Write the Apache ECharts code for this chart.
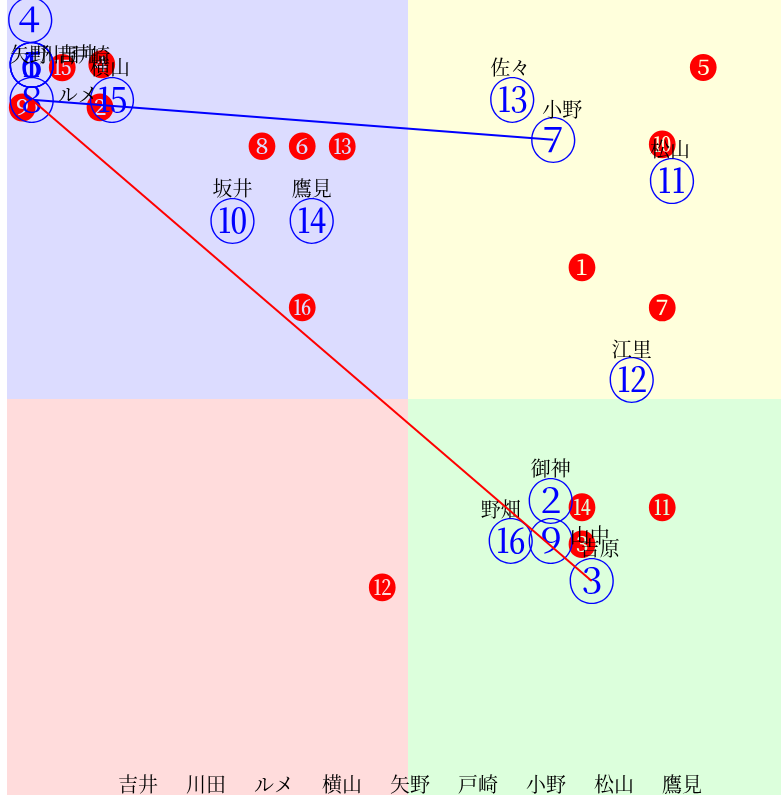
<!DOCTYPE html>
<html>
<head>
<meta charset="utf-8">
<script src="https://cdn.jsdelivr.net/npm/echarts@6/dist/echarts.min.js"></script>
<style>
  html, body { margin: 0; padding: 0; background: #fff; }
  #main { width: 781px; height: 795px; }
</style>
</head>
<body>
<div id="main"></div>
<script>
  // 青の丸数字（①〜⑯）と名前
  const blueGlyphs = ['①', '②', '③', '④', '⑤', '⑥', '⑦', '⑧', '⑨', '⑩', '⑪', '⑫', '⑬', '⑭', '⑮', '⑯']
  const blueNames = ['川田', '御神', '吉原', '戸崎', '吉井', '矢野', '小野', 'ルメ', '山中', '坂井', '松山', '江里', '佐々', '鷹見', '横山', '野畑']
  const blueX = [-46.9, 17.8, 22.9, -47.1, -46.9, -46.9, 18.1, -46.9, 17.8, -21.9, 32.9, 27.9, 13.0, -12.0, -36.9, 12.8]
  const blueY = [41.9, -12.7, -22.8, 47.5, 41.9, 41.9, 32.5, 37.5, -17.8, 22.4, 27.4, 2.4, 37.5, 22.4, 37.5, -17.8]

  // 赤の黒丸数字（❶〜⓰）
  const redGlyphs = ['❶', '❷', '❸', '❹', '❺', '❻', '❼', '❽', '❾', '❿', '⓫', '⓬', '⓭', '⓮', '⓯', '⓰']
  const redX = [21.7, -38.4, 21.7, -38.2, 36.8, -13.2, 31.7, -18.2, -48.1, 31.7, 31.7, -3.2, -8.2, 21.7, -43.1, -13.2]
  const redY = [16.4, 36.5, -18.3, 41.9, 41.5, 31.6, 11.4, 31.6, 36.5, 31.8, -13.7, -23.7, 31.6, -13.7, 41.5, 11.4]

  // 線でつなぐ点（青の番号）
  const blueRoute = [8, 7]
  const redRoute = [8, 3]

  // 下に並ぶ名前
  const bottomNames = ['吉井', '川田', 'ルメ', '横山', '矢野', '戸崎', '小野', '松山', '鷹見']

  // 名前ラベルのずらし量（レイアウト用）
  const nameShift = [[28, -10], [0, -32], [8, -33], [60, 35], [45, -10], [-2, -10], [9, -30], [46, -5],
    [39, -6], [0, -32], [-2, -31], [0, -31], [-2, -32], [0, -32], [-2, -32], [-10, -32]]

  const FONT = '"Noto Serif CJK JP", "Noto Sans CJK JP", serif'
  const CLEAR = 'rgba(0,0,0,0)'

  const pt = (n) => [blueX[n - 1], blueY[n - 1]]

  const chart = echarts.init(document.getElementById('main'))
  chart.setOption({
    animation: false,
    title: {
      text: bottomNames.map(n => '{n|' + n + '}').join(''),
      left: 99,
      top: 769,
      textStyle: {
        fontWeight: 'normal',
        rich: {
          n: { fontFamily: FONT, fontSize: 20, fontWeight: 'normal', color: '#000', padding: [0, 14, 0, 14] }
        }
      }
    },
    grid: { left: 7, top: 0, right: 0, bottom: 0 },
    xAxis: { type: 'value', min: -50, max: 46.5, show: false },
    yAxis: { type: 'value', min: -49.6, max: 50, show: false },
    series: [
      {
        // 背景の四象限
        type: 'scatter',
        data: [],
        silent: true,
        markArea: {
          silent: true,
          itemStyle: { opacity: 1 },
          data: [
            [{ xAxis: -50, yAxis: 0, itemStyle: { color: '#dcdcff' } }, { xAxis: 0, yAxis: 50 }],
            [{ xAxis: 0, yAxis: 0, itemStyle: { color: '#ffffdc' } }, { xAxis: 46.5, yAxis: 50 }],
            [{ xAxis: -50, yAxis: -49.6, itemStyle: { color: '#ffdcdc' } }, { xAxis: 0, yAxis: 0 }],
            [{ xAxis: 0, yAxis: -49.6, itemStyle: { color: '#dcffdc' } }, { xAxis: 46.5, yAxis: 0 }]
          ]
        }
      },
      {
        name: 'red',
        type: 'scatter',
        symbolSize: 1,
        itemStyle: { color: CLEAR, opacity: 1 },
        z: 3,
        data: redGlyphs.map((g, i) => ({ value: [redX[i], redY[i]], glyph: g })),
        label: {
          show: true,
          position: 'inside',
          formatter: (p) => p.data.glyph,
          fontFamily: FONT,
          fontSize: 29,
          color: '#ff0000',
          textBorderWidth: 0
        }
      },
      {
        name: 'blue',
        type: 'scatter',
        symbolSize: 1,
        itemStyle: { color: CLEAR, opacity: 1 },
        z: 4,
        data: blueGlyphs.map((g, i) => ({ value: [blueX[i], blueY[i]], glyph: g })),
        label: {
          show: true,
          position: 'inside',
          formatter: (p) => p.data.glyph,
          fontFamily: FONT,
          fontSize: 48,
          color: '#0000ff',
          textBorderWidth: 0
        }
      },
      {
        name: 'names',
        type: 'scatter',
        symbolSize: 1,
        itemStyle: { color: CLEAR, opacity: 1 },
        z: 5,
        data: blueNames.map((n, i) => ({
          value: [blueX[i], blueY[i]],
          name: n,
          label: { offset: nameShift[i] }
        })),
        label: {
          show: true,
          position: 'inside',
          formatter: '{b}',
          fontFamily: FONT,
          fontSize: 20,
          color: '#000',
          textBorderWidth: 0
        }
      },
      {
        type: 'line',
        z: 6,
        symbol: 'none',
        lineStyle: { color: '#0000ff', width: 2 },
        data: blueRoute.map(pt)
      },
      {
        type: 'line',
        z: 6,
        symbol: 'none',
        lineStyle: { color: '#ff0000', width: 2 },
        data: redRoute.map(pt)
      }
    ]
  })
</script>
</body>
</html>
